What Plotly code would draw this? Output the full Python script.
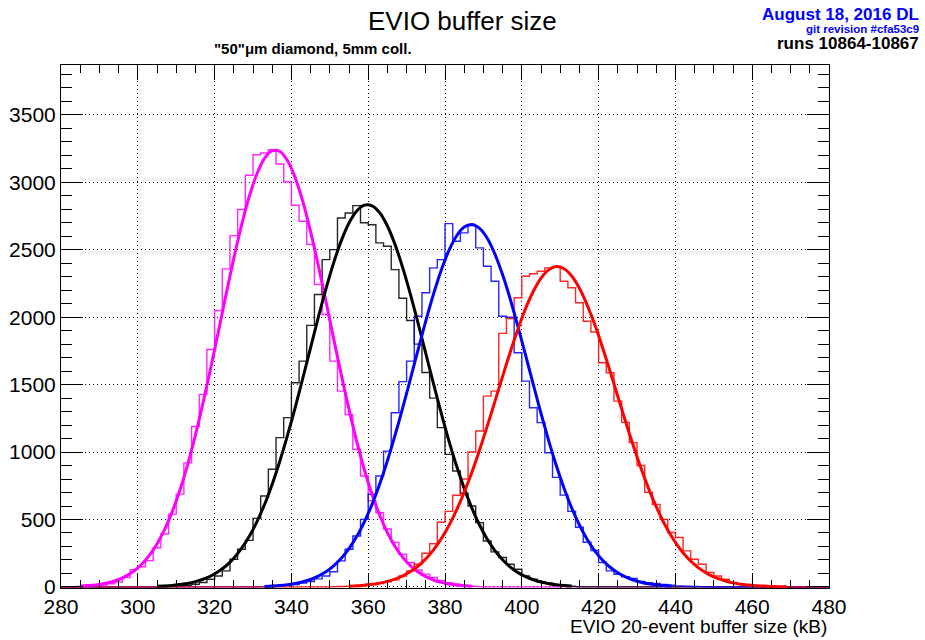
import numpy as np
import plotly.graph_objects as go

# ---------------- data ----------------
BIN_WIDTH = 2          # kB per histogram bin
X_MIN, X_MAX = 280, 480

# Histogram counts; each list starts at the given left bin edge (kB)
MAGENTA_START = 284
MAGENTA_COUNTS = [3, 5, 9, 14, 24, 36, 70, 128, 150, 195,
                  290, 392, 540, 688, 920, 1190, 1428, 1760, 2050, 2358,
                  2605, 2798, 3052, 3205, 3217, 3242, 3136, 3003, 2830, 2711,
                  2539, 2242, 2020, 1674, 1452, 1279, 1020, 822, 640, 550,
                  430, 330, 242, 181, 125, 95, 70, 48, 32, 20,
                  10, 5, 2]

BLACK_START = 306
BLACK_COUNTS = [2, 4, 7, 12, 20, 33, 57, 81, 119, 205,
                279, 345, 508, 674, 872, 1107, 1255, 1514, 1674, 1939,
                2168, 2427, 2501, 2736, 2773, 2827, 2700, 2685, 2551, 2526,
                2353, 2140, 1975, 1800, 1590, 1400, 1181, 983, 859, 695,
                600, 477, 340, 260, 218, 168, 131, 81, 57, 38,
                30, 15, 10, 5, 2]

BLUE_START = 332
BLUE_COUNTS = [2, 4, 7, 12, 18, 28, 40, 60, 81, 113,
               193, 279, 378, 501, 687, 822, 1007, 1292, 1522, 1674,
               2007, 2181, 2366, 2427, 2694, 2563, 2625, 2679, 2514, 2378,
               2267, 2007, 2000, 1736, 1526, 1329, 1218, 995, 812, 681,
               560, 443, 331, 270, 181, 119, 94, 75, 62, 40,
               32, 25, 18, 12, 8, 5, 3, 2]

RED_START = 350
RED_COUNTS = [2, 3, 5, 8, 12, 18, 25, 38, 52, 81,
              119, 168, 250, 320, 480, 560, 680, 800, 1000, 1156,
              1415, 1452, 1880, 1990, 2144, 2304, 2322, 2341, 2366, 2372,
              2267, 2218, 2107, 1970, 1890, 1662, 1588, 1378, 1220, 1070,
              900, 701, 612, 501, 403, 366, 267, 205, 168, 107,
              81, 57, 33, 20, 12, 8, 5, 3, 2]

# Fit curves, sampled every 2 kB starting at the given x (kB)
MAGENTA_FIT_START = 285
MAGENTA_FIT = [6, 10, 15, 24, 37, 55, 82, 118, 168, 234,
               318, 426, 560, 720, 909, 1125, 1366, 1625, 1896, 2171,
               2436, 2681, 2893, 3062, 3178, 3235, 3229, 3160, 3033, 2855,
               2635, 2384, 2116, 1841, 1572, 1316, 1080, 869, 686, 531,
               403, 300, 219, 157, 110, 76, 51, 34, 22, 14,
               9, 5]

BLACK_FIT_START = 305
BLACK_FIT = [5, 7, 11, 18, 26, 39, 57, 81, 114, 157,
             213, 285, 374, 483, 611, 762, 934, 1125, 1332, 1551,
             1775, 1998, 2210, 2403, 2568, 2699, 2788, 2831, 2826, 2774,
             2676, 2538, 2366, 2169, 1954, 1731, 1507, 1290, 1085, 898,
             731, 584, 459, 354, 269, 201, 147, 106, 76, 53,
             36, 24, 16, 10, 7]

BLUE_FIT_START = 333
BLUE_FIT = [4, 7, 11, 17, 25, 38, 55, 80, 112, 156,
            212, 284, 373, 483, 612, 763, 935, 1125, 1329, 1543,
            1760, 1972, 2171, 2347, 2493, 2602, 2668, 2687, 2658, 2585,
            2467, 2314, 2133, 1930, 1717, 1500, 1287, 1085, 899, 732,
            585, 459, 354, 268, 200, 146, 105, 74, 51, 35,
            23, 15, 10, 6]

RED_FIT_START = 355
RED_FIT = [5, 8, 13, 19, 28, 41, 58, 82, 114, 155,
           208, 275, 356, 454, 569, 702, 851, 1016, 1192, 1376,
           1561, 1742, 1912, 2065, 2192, 2290, 2351, 2375, 2359, 2305,
           2214, 2092, 1945, 1777, 1598, 1412, 1228, 1050, 883, 731,
           595, 476, 374, 290, 220, 165, 121, 88, 63, 44,
           30, 20, 14, 9, 6, 4, 2, 1]

TITLE = "EVIO buffer size"
SUBTITLE = "\"50\"\u03bcm diamond, 5mm coll."
DATE_LABEL = "August 18, 2016 DL"
GIT_LABEL = "git revision #cfa53c9"
RUNS_LABEL = "runs 10864-10867"
X_TITLE = "EVIO 20-event buffer size (kB)"

# ---------------- helpers ----------------
def hist_steps(start, counts):
    edges = np.arange(X_MIN, X_MAX + BIN_WIDTH, BIN_WIDTH)
    vals = np.zeros(len(edges) - 1)
    i0 = (start - X_MIN) // BIN_WIDTH
    vals[i0:i0 + len(counts)] = counts
    return edges, np.append(vals, vals[-1])


def fit_xy(start, values):
    x = start + BIN_WIDTH * np.arange(len(values))
    return x, np.array(values, dtype=float)


series = [
    ("#ff00ff", MAGENTA_START, MAGENTA_COUNTS, MAGENTA_FIT_START, MAGENTA_FIT),
    ("#000000", BLACK_START, BLACK_COUNTS, BLACK_FIT_START, BLACK_FIT),
    ("#0000ff", BLUE_START, BLUE_COUNTS, BLUE_FIT_START, BLUE_FIT),
    ("#ff0000", RED_START, RED_COUNTS, RED_FIT_START, RED_FIT),
]

fig = go.Figure()
for color, hs, hc, fs, fv in series:
    hx, hy = hist_steps(hs, hc)
    fig.add_trace(go.Scatter(x=hx, y=hy, mode="lines", line_shape="hv",
                             line=dict(color=color, width=1.4),
                             opacity=0.85, hoverinfo="skip"))
for color, hs, hc, fs, fv in series:
    fx, fy = fit_xy(fs, fv)
    fig.add_trace(go.Scatter(x=fx, y=fy, mode="lines",
                             line=dict(color=color, width=3, shape="spline",
                                       smoothing=0.8),
                             hoverinfo="skip"))

# ---------------- layout ----------------
W, H = 925, 640
PLOT_LEFT, PLOT_RIGHT, PLOT_TOP, PLOT_BOTTOM = 61, 829, 65, 588   # page px
L, R = PLOT_LEFT, W - PLOT_RIGHT
T, B = PLOT_TOP, H - PLOT_BOTTOM
PW, PH = W - L - R, H - T - B


def px(xp):
    return (xp - L) / PW


def py(yp):
    return (H - B - yp) / PH


FONT = "Liberation Sans, Arial, Helvetica, sans-serif"

fig.update_layout(
    width=W, height=H,
    margin=dict(l=L, r=R, t=T, b=B, autoexpand=False),
    plot_bgcolor="white", paper_bgcolor="white",
    showlegend=False,
    font=dict(family=FONT, color="black"),
)

axis_common = dict(
    showline=True, linecolor="black", linewidth=1, mirror="allticks",
    ticks="inside", tickcolor="black", tickwidth=1,
    showgrid=True, gridcolor="black", gridwidth=1, griddash="1px,3px",
    zeroline=False, tickfont=dict(size=21, family=FONT, color="black"),
)

fig.update_xaxes(range=[X_MIN, X_MAX], tick0=280, dtick=20, ticklen=15,
                 minor=dict(dtick=5, ticks="inside", ticklen=8,
                            tickcolor="black", showgrid=False),
                 **axis_common)
fig.update_yaxes(range=[-8, 3870], tick0=0, dtick=500, ticklen=22,
                 minor=dict(dtick=100, ticks="inside", ticklen=11,
                            tickcolor="black", showgrid=False),
                 **axis_common)

annotations = [
    dict(text=TITLE, x=px(462), y=py(21), font=dict(size=26)),
    dict(text="<b>" + SUBTITLE + "</b>", x=px(313), y=py(48),
         font=dict(size=15)),
    dict(text="<b>" + DATE_LABEL + "</b>", x=px(921), y=py(15),
         xanchor="right", font=dict(size=17, color="#0000ff")),
    dict(text="<b>" + GIT_LABEL + "</b>", x=px(921), y=py(29),
         xanchor="right", font=dict(size=11.5, color="#0000ff")),
    dict(text="<b>" + RUNS_LABEL + "</b>", x=px(921), y=py(44),
         xanchor="right", font=dict(size=17)),
    dict(text=X_TITLE, x=px(829), y=py(626), xanchor="right",
         font=dict(size=19)),
]
for a in annotations:
    a.setdefault("xanchor", "center")
    fig.add_annotation(xref="paper", yref="paper", yanchor="middle",
                       showarrow=False, **a)

# remove the default page margin so the 925x640 figure fills the window
PAGE_SCRIPT = ("document.body.style.margin='0px';"
               "document.body.style.overflow='hidden';")
fig.write_html("out.html", post_script=PAGE_SCRIPT,
               config={"displayModeBar": False, "staticPlot": True})
